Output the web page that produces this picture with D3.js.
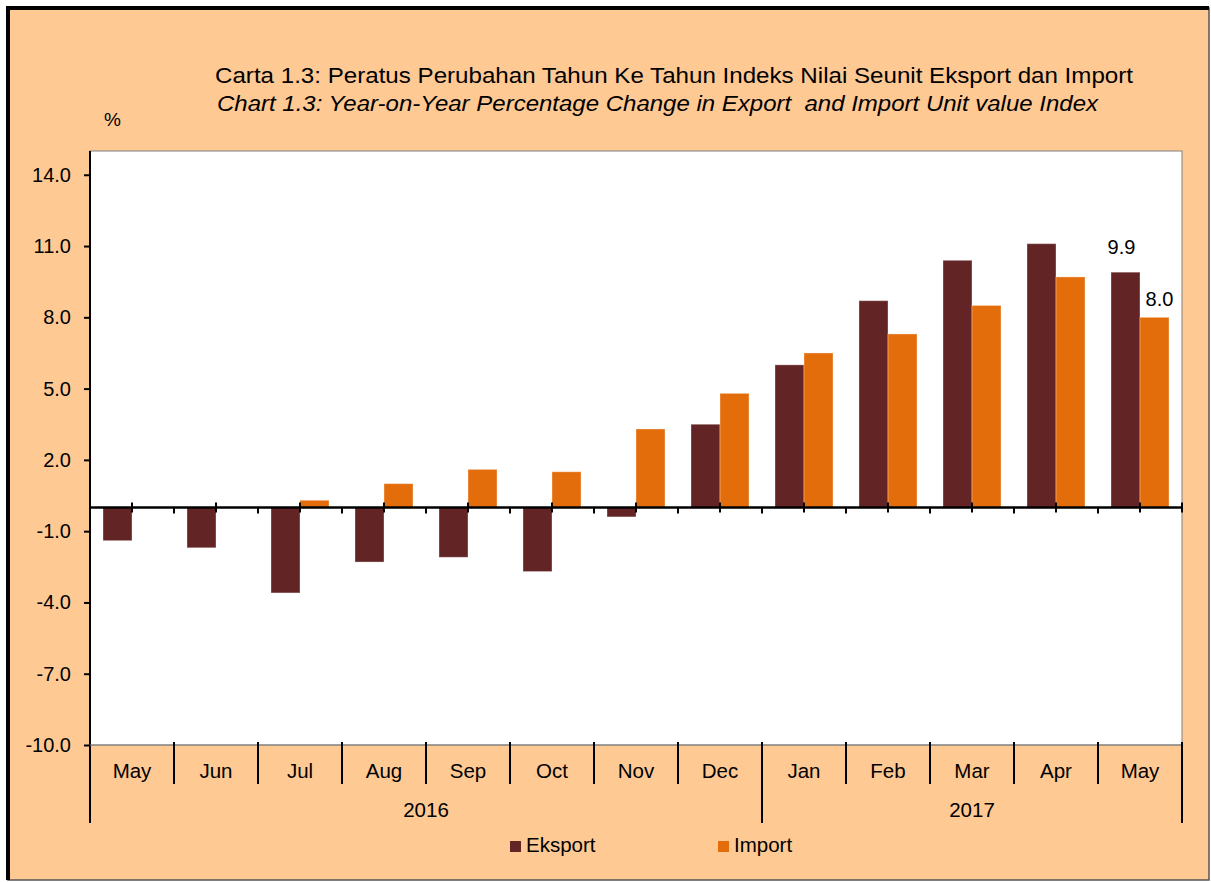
<!DOCTYPE html>
<html>
<head>
<meta charset="utf-8">
<script src="https://cdn.jsdelivr.net/npm/d3@7"></script>
<style>
  html, body { margin: 0; padding: 0; background: #fff; }
  svg { display: block; font-family: "Liberation Sans", Arial, sans-serif; }
</style>
</head>
<body>
<div id="chart"></div>
<script>
// data
const months = ["May", "Jun", "Jul", "Aug", "Sep", "Oct", "Nov", "Dec", "Jan", "Feb", "Mar", "Apr", "May"];
const years = [
  { label: "2016", from: 0, to: 8 },
  { label: "2017", from: 8, to: 13 }
];
const eksport = [-1.4, -1.7, -3.6, -2.3, -2.1, -2.7, -0.4, 3.5, 6.0, 8.7, 10.4, 11.1, 9.9];
const importVals = [0.0, 0.0, 0.3, 1.0, 1.6, 1.5, 3.3, 4.8, 6.5, 7.3, 8.5, 9.7, 8.0];
const seriesNames = ["Eksport", "Import"];
const yTicks = [14, 11, 8, 5, 2, -1, -4, -7, -10];

const width = 1211, height = 882;
const colors = { Eksport: "#632425", Import: "#E36C0B" };
const peach = "#FFC994";
const fmt = v => d3.format(".1f")(v).replace("\u2212", "-");

const svg = d3.select("#chart").append("svg")
  .attr("width", width)
  .attr("height", height);

// frame
svg.append("rect")
  .attr("x", 8).attr("y", 8)
  .attr("width", 1201).attr("height", 872)
  .attr("fill", peach)
  .attr("stroke", "#555").attr("stroke-width", 1.5);
svg.append("path")
  .attr("d", "M8,880 L8,8 L1209,8")
  .attr("fill", "none")
  .attr("stroke", "#000").attr("stroke-width", 4);

// title (stretched a little to the reference width)
svg.append("text")
  .attr("x", 215).attr("y", 83)
  .attr("textLength", 918)
  .attr("lengthAdjust", "spacingAndGlyphs")
  .style("font-size", "22px")
  .text("Carta 1.3: Peratus Perubahan Tahun Ke Tahun Indeks Nilai Seunit Eksport dan Import");
svg.append("text")
  .attr("x", 217).attr("y", 111)
  .attr("textLength", 881)
  .attr("lengthAdjust", "spacingAndGlyphs")
  .style("font-size", "22px")
  .style("font-style", "italic")
  .style("white-space", "pre")
  .text("Chart 1.3: Year-on-Year Percentage Change in Export  and Import Unit value Index");
svg.append("text")
  .attr("x", 104).attr("y", 126)
  .style("font-size", "19px")
  .text("%");

// plot area
const pLeft = 90, pRight = 1182, pTop = 151, pBottom = 745;

svg.append("rect")
  .attr("x", pLeft).attr("y", pTop)
  .attr("width", pRight - pLeft).attr("height", pBottom - pTop)
  .attr("fill", "#fff")
  .attr("stroke", "#808080").attr("stroke-width", 1);

const x0 = d3.scaleBand()
  .domain(d3.range(months.length))
  .range([pLeft, pRight])
  .padding(0);

const x1 = d3.scaleBand()
  .domain(seriesNames)
  .range([0, x0.bandwidth()])
  .paddingInner(0)
  .paddingOuter(0.448);

const y = d3.scaleLinear()
  .domain([-10, 15])
  .range([pBottom, pTop]);

const rows = months.map((m, i) => ({ i: i, Eksport: eksport[i], Import: importVals[i] }));

// bars
const groups = svg.append("g")
  .selectAll("g")
  .data(rows)
  .enter()
  .append("g")
  .attr("transform", d => "translate(" + x0(d.i) + ",0)");

groups.selectAll("rect")
  .data(d => seriesNames.map(s => ({ key: s, value: d[s] })))
  .enter()
  .append("rect")
  .attr("x", d => x1(d.key))
  .attr("width", x1.bandwidth())
  .attr("y", d => y(Math.max(0, d.value)))
  .attr("height", d => Math.abs(y(d.value) - y(0)))
  .attr("fill", d => colors[d.key])
  .attr("stroke", d => d.value === 0 ? "none" : "rgba(255,255,255,0.35)")
  .attr("stroke-width", 1);

// y axis
const yAxis = svg.append("g")
  .attr("transform", "translate(" + pLeft + ",0)")
  .call(d3.axisLeft(y)
    .tickValues(yTicks)
    .tickFormat(fmt)
    .tickSize(6)
    .tickSizeOuter(0)
    .tickPadding(13));
yAxis.select(".domain").remove();
yAxis.selectAll(".tick line").attr("stroke", "#000").attr("stroke-width", 2);
yAxis.selectAll(".tick text")
  .attr("fill", "#000")
  .style("font-size", "20px")
  .style("font-family", "Liberation Sans, Arial, sans-serif");

svg.append("line")
  .attr("x1", pLeft).attr("x2", pLeft)
  .attr("y1", pTop).attr("y2", 823)
  .attr("stroke", "#000").attr("stroke-width", 2);

// zero line with ticks
svg.append("line")
  .attr("x1", pLeft).attr("x2", pRight + 1)
  .attr("y1", y(0)).attr("y2", y(0))
  .attr("stroke", "#000").attr("stroke-width", 2.5);

const zeroTicks = svg.append("g");
zeroTicks.selectAll("line.c")
  .data(d3.range(months.length))
  .enter()
  .append("line")
  .attr("class", "c")
  .attr("x1", d => x0(d) + x0.bandwidth() / 2)
  .attr("x2", d => x0(d) + x0.bandwidth() / 2)
  .attr("y1", y(0) - 5).attr("y2", y(0) + 5)
  .attr("stroke", "#000").attr("stroke-width", 2);
zeroTicks.selectAll("line.b")
  .data(d3.range(1, months.length))
  .enter()
  .append("line")
  .attr("class", "b")
  .attr("x1", d => x0(d))
  .attr("x2", d => x0(d))
  .attr("y1", y(0)).attr("y2", y(0) + 6)
  .attr("stroke", "#000").attr("stroke-width", 2);
zeroTicks.append("line")
  .attr("x1", pRight).attr("x2", pRight)
  .attr("y1", y(0) - 5).attr("y2", y(0) + 5)
  .attr("stroke", "#000").attr("stroke-width", 2);

// category axis at the bottom
svg.append("line")
  .attr("x1", pLeft).attr("x2", pRight)
  .attr("y1", pBottom).attr("y2", pBottom)
  .attr("stroke", "#808080").attr("stroke-width", 1);

const catAxis = svg.append("g");
catAxis.selectAll("line.sep")
  .data(d3.range(1, months.length + 1))
  .enter()
  .append("line")
  .attr("class", "sep")
  .attr("x1", d => d === months.length ? pRight : x0(d))
  .attr("x2", d => d === months.length ? pRight : x0(d))
  .attr("y1", pBottom - 3)
  .attr("y2", d => years.some(yr => yr.to === d) ? 823 : 784)
  .attr("stroke", "#000").attr("stroke-width", 2);

catAxis.selectAll("text.month")
  .data(months)
  .enter()
  .append("text")
  .attr("class", "month")
  .attr("x", (d, i) => x0(i) + x0.bandwidth() / 2)
  .attr("y", 778)
  .attr("text-anchor", "middle")
  .style("font-size", "20.5px")
  .text(d => d);

catAxis.selectAll("text.year")
  .data(years)
  .enter()
  .append("text")
  .attr("class", "year")
  .attr("x", d => {
    const a = x0(d.from);
    const b = d.to === months.length ? pRight : x0(d.to);
    return (a + b) / 2;
  })
  .attr("y", 817)
  .attr("text-anchor", "middle")
  .style("font-size", "20.5px")
  .text(d => d.label);

// data labels on the last month
const last = months.length - 1;
svg.append("text")
  .attr("x", x0(last) + x1("Eksport") + x1.bandwidth() / 2 - 4)
  .attr("y", y(eksport[last]) - 18)
  .attr("text-anchor", "middle")
  .style("font-size", "20px")
  .text(fmt(eksport[last]));
svg.append("text")
  .attr("x", x0(last) + x1("Import") + x1.bandwidth() / 2 + 5)
  .attr("y", y(importVals[last]) - 11)
  .attr("text-anchor", "middle")
  .style("font-size", "20px")
  .text(fmt(importVals[last]));

// legend
const legendX = [510, 718];
const legend = svg.append("g")
  .selectAll("g")
  .data(seriesNames)
  .enter()
  .append("g")
  .attr("transform", (d, i) => "translate(" + legendX[i] + ",841)");
legend.append("rect")
  .attr("width", 11).attr("height", 11)
  .attr("fill", d => colors[d]);
legend.append("text")
  .attr("x", 16).attr("y", 11)
  .style("font-size", "20.5px")
  .text(d => d);
</script>
</body>
</html>
